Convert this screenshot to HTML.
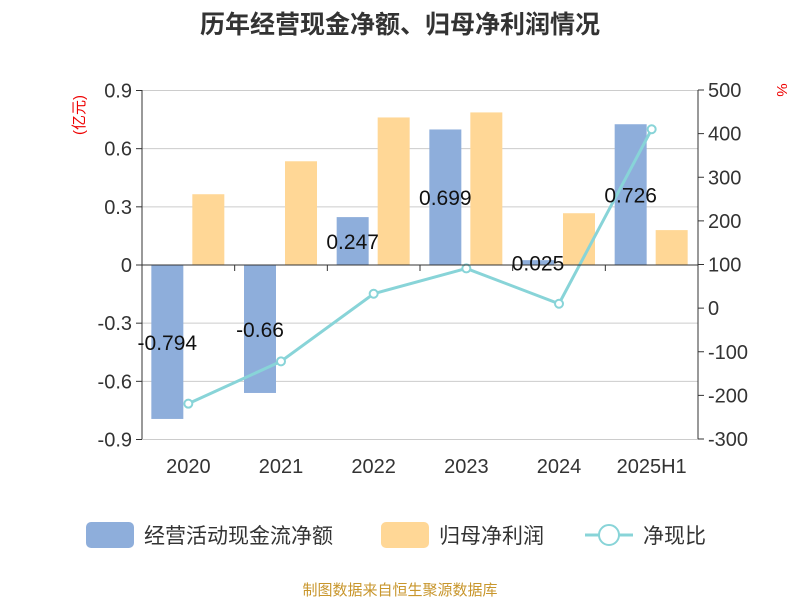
<!DOCTYPE html>
<html><head><meta charset="utf-8"><style>
body{margin:0;background:#fff;width:800px;height:600px;overflow:hidden;font-family:"Liberation Sans","Noto Sans CJK SC",sans-serif}
</style></head><body>
<svg id="c" width="800" height="600" xmlns="http://www.w3.org/2000/svg" font-family="Liberation Sans, Noto Sans CJK SC, sans-serif">
<text x="400" y="33" text-anchor="middle" font-size="25" font-weight="bold" fill="#333">历年经营现金净额、归母净利润情况</text>
<text transform="translate(84,115) rotate(-90)" text-anchor="middle" font-size="15" fill="#e00">(亿元)</text>
<text transform="translate(777,90) rotate(90)" text-anchor="middle" font-size="15" fill="#e00">%</text>
<g id="grid"></g><g id="bars"></g><g id="line"></g><g id="axes"></g><g id="labels"></g>
<g font-size="21" fill="#333">
<rect x="86" y="522" width="48" height="26" rx="5" fill="#8eaedb"/>
<text x="144" y="543">经营活动现金流净额</text>
<rect x="381" y="522" width="48" height="26" rx="5" fill="#ffd796"/>
<text x="439" y="543">归母净利润</text>
<line x1="585" y1="535" x2="633" y2="535" stroke="#88d4d8" stroke-width="3"/>
<circle cx="609" cy="535" r="10" fill="#fff" stroke="#88d4d8" stroke-width="2"/>
<text x="643" y="543">净现比</text>
</g>
<text x="400" y="595" text-anchor="middle" font-size="15" fill="#c8962c">制图数据来自恒生聚源数据库</text>
</svg>
<script>
const categories=["2020","2021","2022","2023","2024","2025H1"];
const cashFlow=[-0.794,-0.66,0.247,0.699,0.025,0.726];
const netProfit=[0.365,0.535,0.761,0.787,0.267,0.18];
const ratio=[-219,-122,33,91,10,410];
const leftTicks=[0.9,0.6,0.3,0,-0.3,-0.6,-0.9];
const rightTicks=[500,400,300,200,100,0,-100,-200,-300];
const NS="http://www.w3.org/2000/svg";
const X0=142,X1=698,T=90,B=439;
const yL=v=>265-v*(B-T)/1.8;
const yR=v=>T+(500-v)*(B-T)/800;
const bw=(X1-X0)/categories.length;
const cx=i=>X0+bw*(i+0.5);
function mk(tag,attrs,parent,txt){const e=document.createElementNS(NS,tag);for(const k in attrs)e.setAttribute(k,attrs[k]);if(txt!==undefined)e.textContent=txt;document.getElementById(parent).appendChild(e);return e;}
leftTicks.forEach(t=>{
 const g=mk("line",{x1:X0,x2:X1,y1:yL(t),y2:yL(t),stroke:"#ccc","stroke-width":1},"grid");
 
 
 const l=mk("text",{x:X0-10,y:yL(t)+7,"text-anchor":"end","font-size":20,fill:"#333"},"axes",String(t));
 
 
 mk("line",{x1:X0-6,x2:X0,y1:yL(t),y2:yL(t),stroke:"#333"},"axes");
});
rightTicks.forEach(t=>{
 const l=mk("text",{x:X1+10,y:yR(t)+7,"font-size":20,fill:"#333"},"axes",String(t));
 
 
 mk("line",{x1:X1,x2:X1+6,y1:yR(t),y2:yR(t),stroke:"#333"},"axes");
});
mk("line",{x1:X0,x2:X0,y1:T,y2:B,stroke:"#333"},"axes");
mk("line",{x1:X1,x2:X1,y1:T,y2:B,stroke:"#333"},"axes");
mk("line",{x1:X0,x2:X1,y1:yL(0),y2:yL(0),stroke:"#333"},"axes");
categories.forEach((c,i)=>{
 mk("line",{x1:X0+bw*i,x2:X0+bw*i,y1:yL(0),y2:yL(0)+6,stroke:"#333"},"axes");
 const l=mk("text",{x:cx(i),y:473,"text-anchor":"middle","font-size":20,fill:"#333"},"axes",c);
 
 
 const v=cashFlow[i],y0=yL(0),y1=yL(v);
 const b=mk("rect",{x:cx(i)-37,y:Math.min(y0,y1),width:32,height:Math.abs(y1-y0),fill:"#8eaedb"},"bars");
 
 
 const p=netProfit[i],py=yL(p);
 const b2=mk("rect",{x:cx(i)+4,y:Math.min(y0,py),width:32,height:Math.abs(py-y0),fill:"#ffd796"},"bars");
 
 
 const t=mk("text",{x:cx(i)-21,y:(y0+y1)/2+8,"text-anchor":"middle","font-size":21,fill:"#111"},"labels",String(v));
 
 
});
const pts=ratio.map((r,i)=>cx(i)+","+yR(r)).join(" ");
const pl=mk("polyline",{points:pts,fill:"none",stroke:"#88d4d8","stroke-width":3},"line");


ratio.forEach((r,i)=>{
 const c=mk("circle",{cx:cx(i),cy:yR(r),r:4,fill:"#fff",stroke:"#88d4d8","stroke-width":2},"line");
 
 
});
</script>
</body></html>
